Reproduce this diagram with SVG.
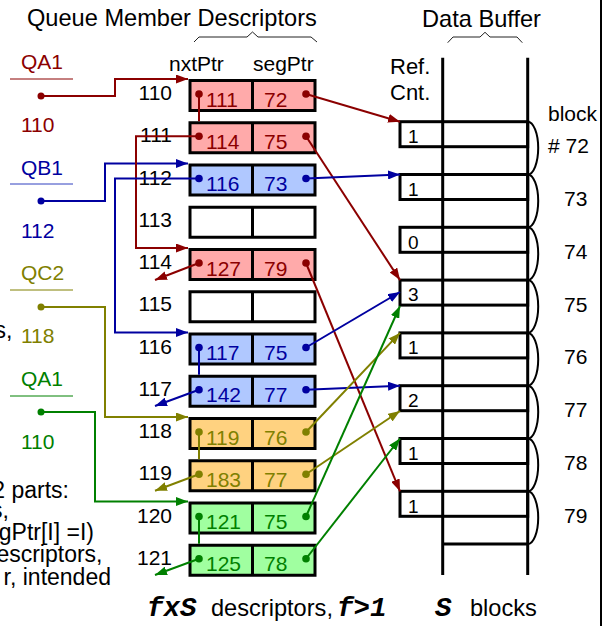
<svg xmlns="http://www.w3.org/2000/svg" width="603" height="626" viewBox="0 0 603 626">
<style>
text{font-family:"Liberation Sans",Arial,sans-serif;}
.t23{font-size:23.6px;}
.t21{font-size:21px;}
.nt{font-size:23px;text-anchor:end;}
.lbl{font-size:21px;text-anchor:end;fill:#000;}
.cell{font-size:21px;}
.rc{font-size:19px;}
.mono{font-family:"Liberation Mono","Courier New",monospace;font-weight:bold;font-style:italic;font-size:27.5px;}
.box{stroke:#000;stroke-width:3;}
.buf{stroke:#000;stroke-width:3;fill:none;}
.arc{stroke:#000;stroke-width:2;fill:none;}
.c{fill:none;stroke-width:2;}
.r{stroke:#8b0000;} .b{stroke:#0000a0;} .o{stroke:#808000;} .g{stroke:#008000;}
.fr{fill:#8b0000;} .fb{fill:#0000a0;} .fo{fill:#808000;} .fg{fill:#008000;}
.pk{fill:#ffaaaa;} .bl{fill:#b0c8ff;} .og{fill:#ffd280;} .gr{fill:#a0ffa0;} .wh{fill:#fff;}
</style>
<defs>
<marker id="ar" markerUnits="userSpaceOnUse" markerWidth="12" markerHeight="9" refX="12" refY="4.5" orient="auto"><path d="M0,0L12,4.5L0,9z" fill="#8b0000"/></marker>
<marker id="ab" markerUnits="userSpaceOnUse" markerWidth="12" markerHeight="9" refX="12" refY="4.5" orient="auto"><path d="M0,0L12,4.5L0,9z" fill="#0000a0"/></marker>
<marker id="ao" markerUnits="userSpaceOnUse" markerWidth="12" markerHeight="9" refX="12" refY="4.5" orient="auto"><path d="M0,0L12,4.5L0,9z" fill="#808000"/></marker>
<marker id="ag" markerUnits="userSpaceOnUse" markerWidth="12" markerHeight="9" refX="12" refY="4.5" orient="auto"><path d="M0,0L12,4.5L0,9z" fill="#008000"/></marker>
</defs>
<rect width="603" height="626" fill="#fff"/>

<!-- titles -->
<g id="titles">
<text class="t23" x="27" y="26">Queue Member Descriptors</text>
<text class="t23" x="422" y="26.5">Data Buffer</text>
<path d="M194,42L199,37L247,37L252.5,32L258,37L311,37L317,42" fill="none" stroke="#222" stroke-width="1"/>
<path d="M447.7,42.7L453,37L480,37L485,32.3L490,37L517,37L522.3,42.7" fill="none" stroke="#222" stroke-width="1"/>
<text class="t21" x="169" y="71">nxtPtr</text>
<text class="t21" x="253" y="71">segPtr</text>
<text class="t21" x="390" y="74" style="font-size:22px">Ref.</text>
<text class="t21" x="390" y="100" style="font-size:22px">Cnt.</text>
<text class="mono" x="147" y="616">fxS</text>
<text class="t23" x="211" y="616">descriptors,</text>
<text class="mono" x="337" y="616">f&gt;1</text>
<text class="mono" x="435" y="616">S</text>
<text class="t23" x="470" y="616">blocks</text>
</g>

<!-- left cut-off text -->
<g id="notes">
<text class="nt" x="12.5" y="338">s,</text>
<text class="nt" x="69" y="498">2 parts:</text>
<text class="nt" x="9" y="518">s,</text>
<text class="nt" x="94" y="540">gPtr[I] =I)</text>
<text class="nt" x="102.5" y="562">escriptors,</text>
<text class="nt" x="111" y="585">r, intended</text>
</g>

<!-- queue heads -->
<g id="qa1">
<text class="t21 fr" x="21" y="69">QA1</text>
<line x1="10" y1="79" x2="73" y2="79" stroke="#8b0000" stroke-width="1"/>
<circle cx="41" cy="96" r="3.5" class="fr"/>
<text class="t21 fr" x="21" y="132">110</text>
</g>
<g id="qb1">
<text class="t21 fb" x="21" y="175">QB1</text>
<line x1="10" y1="184" x2="73" y2="184" stroke="#3040c0" stroke-width="1"/>
<circle cx="41" cy="201" r="3.5" class="fb"/>
<text class="t21 fb" x="21" y="238">112</text>
</g>
<g id="qc2">
<text class="t21 fo" x="21" y="280">QC2</text>
<line x1="10" y1="290" x2="73" y2="290" stroke="#808000" stroke-width="1"/>
<circle cx="41" cy="307" r="3.5" class="fo"/>
<text class="t21 fo" x="21" y="343">118</text>
</g>
<g id="qa1b">
<text class="t21 fg" x="21" y="386">QA1</text>
<line x1="10" y1="396" x2="73" y2="396" stroke="#008000" stroke-width="1"/>
<circle cx="41" cy="412" r="3.5" class="fg"/>
<text class="t21 fg" x="21" y="449">110</text>
</g>

<!-- descriptor rows -->
<g id="d110"><text class="lbl" x="172" y="100">110</text><rect class="box pk" x="190" y="80.5" width="125" height="30"/><line class="box" x1="252.5" y1="80.5" x2="252.5" y2="110.5"/><text class="cell fr" x="206" y="106.5">111</text><text class="cell fr" x="264" y="106.5">72</text></g>
<g id="d111"><text class="lbl" x="172" y="142.25">111</text><rect class="box pk" x="190" y="122.75" width="125" height="30"/><line class="box" x1="252.5" y1="122.75" x2="252.5" y2="152.75"/><text class="cell fr" x="206" y="148.75">114</text><text class="cell fr" x="264" y="148.75">75</text></g>
<g id="d112"><text class="lbl" x="172" y="184.5">112</text><rect class="box bl" x="190" y="165" width="125" height="30"/><line class="box" x1="252.5" y1="165" x2="252.5" y2="195"/><text class="cell fb" x="206" y="191">116</text><text class="cell fb" x="264" y="191">73</text></g>
<g id="d113"><text class="lbl" x="172" y="226.75">113</text><rect class="box wh" x="190" y="207.25" width="125" height="30"/><line class="box" x1="252.5" y1="207.25" x2="252.5" y2="237.25"/></g>
<g id="d114"><text class="lbl" x="172" y="269">114</text><rect class="box pk" x="190" y="249.5" width="125" height="30"/><line class="box" x1="252.5" y1="249.5" x2="252.5" y2="279.5"/><text class="cell fr" x="206" y="275.5">127</text><text class="cell fr" x="264" y="275.5">79</text></g>
<g id="d115"><text class="lbl" x="172" y="311.25">115</text><rect class="box wh" x="190" y="291.75" width="125" height="30"/><line class="box" x1="252.5" y1="291.75" x2="252.5" y2="321.75"/></g>
<g id="d116"><text class="lbl" x="172" y="353.5">116</text><rect class="box bl" x="190" y="334" width="125" height="30"/><line class="box" x1="252.5" y1="334" x2="252.5" y2="364"/><text class="cell fb" x="206" y="360">117</text><text class="cell fb" x="264" y="360">75</text></g>
<g id="d117"><text class="lbl" x="172" y="395.75">117</text><rect class="box bl" x="190" y="376.25" width="125" height="30"/><line class="box" x1="252.5" y1="376.25" x2="252.5" y2="406.25"/><text class="cell fb" x="206" y="402.25">142</text><text class="cell fb" x="264" y="402.25">77</text></g>
<g id="d118"><text class="lbl" x="172" y="438">118</text><rect class="box og" x="190" y="418.5" width="125" height="30"/><line class="box" x1="252.5" y1="418.5" x2="252.5" y2="448.5"/><text class="cell fo" x="206" y="444.5">119</text><text class="cell fo" x="264" y="444.5">76</text></g>
<g id="d119"><text class="lbl" x="172" y="480.25">119</text><rect class="box og" x="190" y="460.75" width="125" height="30"/><line class="box" x1="252.5" y1="460.75" x2="252.5" y2="490.75"/><text class="cell fo" x="206" y="486.75">183</text><text class="cell fo" x="264" y="486.75">77</text></g>
<g id="d120"><text class="lbl" x="172" y="522.5">120</text><rect class="box gr" x="190" y="503" width="125" height="30"/><line class="box" x1="252.5" y1="503" x2="252.5" y2="533"/><text class="cell fg" x="206" y="529">121</text><text class="cell fg" x="264" y="529">75</text></g>
<g id="d121"><text class="lbl" x="172" y="564.75">121</text><rect class="box gr" x="190" y="545.25" width="125" height="30"/><line class="box" x1="252.5" y1="545.25" x2="252.5" y2="575.25"/><text class="cell fg" x="206" y="571.25">125</text><text class="cell fg" x="264" y="571.25">78</text></g>

<!-- data buffer -->
<g id="buffer">
<line class="buf" x1="442.7" y1="57.7" x2="442.7" y2="575"/>
<line class="buf" x1="527.7" y1="57.7" x2="527.7" y2="575"/>
<line class="buf" x1="442.7" y1="544.1" x2="527.7" y2="544.1"/>
</g>
<g id="b72"><rect class="buf" x="400" y="121.7" width="127.7" height="25"/><text class="rc" x="408" y="143">1</text><path class="arc" d="M527.7,121.7A10.5,26.4 0 0 1 527.7,174.5"/><text class="t21" x="548" y="121">block</text><text class="t21" x="548" y="153"># 72</text></g>
<g id="b73"><rect class="buf" x="400" y="174.5" width="127.7" height="25"/><text class="rc" x="408" y="195.8">1</text><path class="arc" d="M527.7,174.5A10.5,26.4 0 0 1 527.7,227.3"/><text class="t21" x="564" y="206">73</text></g>
<g id="b74"><rect class="buf" x="400" y="227.3" width="127.7" height="25"/><text class="rc" x="408" y="248.6">0</text><path class="arc" d="M527.7,227.3A10.5,26.4 0 0 1 527.7,280.1"/><text class="t21" x="564" y="258.8">74</text></g>
<g id="b75"><rect class="buf" x="400" y="280.1" width="127.7" height="25"/><text class="rc" x="408" y="301.4">3</text><path class="arc" d="M527.7,280.1A10.5,26.4 0 0 1 527.7,332.9"/><text class="t21" x="564" y="311.6">75</text></g>
<g id="b76"><rect class="buf" x="400" y="332.9" width="127.7" height="25"/><text class="rc" x="408" y="354.2">1</text><path class="arc" d="M527.7,332.9A10.5,26.4 0 0 1 527.7,385.7"/><text class="t21" x="564" y="364.4">76</text></g>
<g id="b77"><rect class="buf" x="400" y="385.7" width="127.7" height="25"/><text class="rc" x="408" y="407">2</text><path class="arc" d="M527.7,385.7A10.5,26.4 0 0 1 527.7,438.5"/><text class="t21" x="564" y="417.2">77</text></g>
<g id="b78"><rect class="buf" x="400" y="438.5" width="127.7" height="25"/><text class="rc" x="408" y="459.8">1</text><path class="arc" d="M527.7,438.5A10.5,26.4 0 0 1 527.7,491.3"/><text class="t21" x="564" y="470">78</text></g>
<g id="b79"><rect class="buf" x="400" y="491.3" width="127.7" height="25"/><text class="rc" x="408" y="512.6">1</text><path class="arc" d="M527.7,491.3A10.5,26.4 0 0 1 527.7,544.1"/><text class="t21" x="564" y="522.8">79</text></g>
<line x1="601" y1="0" x2="601" y2="626" stroke="#000" stroke-width="2"/>

<!-- connectors -->
<g id="connectors">
<path class="c r" d="M41,96H115V79H188" marker-end="url(#ar)"/>
<path class="c b" d="M41,201H105V163.5H188" marker-end="url(#ab)"/>
<path class="c o" d="M41,307H105V417H188" marker-end="url(#ao)"/>
<path class="c g" d="M41,412H95V501.5H188" marker-end="url(#ag)"/>

<path class="c r" d="M199,94V121.25"/>
<path class="c r" d="M199,136.25H136V248H188" marker-end="url(#ar)"/>
<path class="c b" d="M199,178.5H115V332.5H188" marker-end="url(#ab)"/>
<path class="c r" d="M199,263L155,280" marker-end="url(#ar)"/>
<path class="c b" d="M199,347.5V374.75"/>
<path class="c b" d="M199,389.75L155,406" marker-end="url(#ab)"/>
<path class="c o" d="M199,432V459.25"/>
<path class="c o" d="M199,474.25L155,490.7" marker-end="url(#ao)"/>
<path class="c g" d="M199,516.5V543.75"/>
<path class="c g" d="M199,558.75L155,575" marker-end="url(#ag)"/>

<path class="c r" d="M306,94L400,121.7" marker-end="url(#ar)"/>
<path class="c r" d="M306,136.25L400,280.1" marker-end="url(#ar)"/>
<path class="c b" d="M306,178.5L400,174.5" marker-end="url(#ab)"/>
<path class="c r" d="M306,263L400,491.3" marker-end="url(#ar)"/>
<path class="c b" d="M306,347.5L400,292" marker-end="url(#ab)"/>
<path class="c b" d="M306,389.75L400,385.7" marker-end="url(#ab)"/>
<path class="c o" d="M306,432L400,332.9" marker-end="url(#ao)"/>
<path class="c o" d="M306,474.25L400,411" marker-end="url(#ao)"/>
<path class="c g" d="M306,516.5L400,306" marker-end="url(#ag)"/>
<path class="c g" d="M306,558.75L400,438.5" marker-end="url(#ag)"/>

<g class="fr"><circle cx="199" cy="94" r="3.8"/><circle cx="306" cy="94" r="3.8"/><circle cx="199" cy="136.25" r="3.8"/><circle cx="306" cy="136.25" r="3.8"/><circle cx="199" cy="263" r="3.8"/><circle cx="306" cy="263" r="3.8"/></g>
<g class="fb"><circle cx="199" cy="178.5" r="3.8"/><circle cx="306" cy="178.5" r="3.8"/><circle cx="199" cy="347.5" r="3.8"/><circle cx="306" cy="347.5" r="3.8"/><circle cx="199" cy="389.75" r="3.8"/><circle cx="306" cy="389.75" r="3.8"/></g>
<g class="fo"><circle cx="199" cy="432" r="3.8"/><circle cx="306" cy="432" r="3.8"/><circle cx="199" cy="474.25" r="3.8"/><circle cx="306" cy="474.25" r="3.8"/></g>
<g class="fg"><circle cx="199" cy="516.5" r="3.8"/><circle cx="306" cy="516.5" r="3.8"/><circle cx="199" cy="558.75" r="3.8"/><circle cx="306" cy="558.75" r="3.8"/></g>
</g>
</svg>
